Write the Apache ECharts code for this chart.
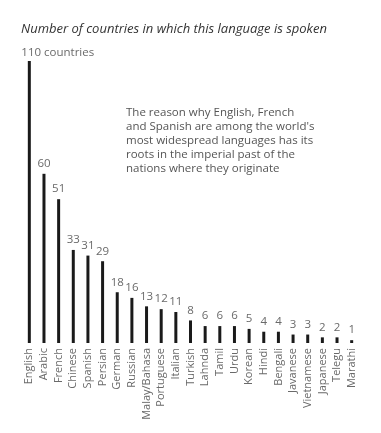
<!DOCTYPE html>
<html>
<head>
<meta charset="utf-8">
<script src="https://cdn.jsdelivr.net/npm/echarts@6/dist/echarts.min.js"></script>
<style>
html,body{margin:0;padding:0;background:#fff;}
#chart{width:381px;height:433px;}
</style>
</head>
<body>
<div id="chart"></div>
<script>
const languages = ["English","Arabic","French","Chinese","Spanish","Persian","German","Russian","Malay/Bahasa","Portuguese","Italian","Turkish","Lahnda","Tamil","Urdu","Korean","Hindi","Bengali","Javanese","Vietnamese","Japanese","Telegu","Marathi"];
const countries = [110,60,51,33,31,29,18,16,13,12,11,8,6,6,6,5,4,4,3,3,2,2,1];
const titleText = "Number of countries in which this language is spoken";
const noteText = "The reason why English, French\nand Spanish are among the world's\nmost widespread languages has its\nroots in the imperial past of the\nnations where they originate";

const FONT = "Open Sans";
const chart = echarts.init(document.getElementById('chart'), null, {renderer:'canvas'});
const data = countries.map((v,i)=> i===0 ? {
  value: v,
  label: {formatter: v + ' countries', align:'left', offset:[-8,0], distance:2}
} : v);

chart.setOption({
  animation:false,
  backgroundColor:'#ffffff',
  title:{
    text:titleText, left:16, top:18,
    textStyle:{fontFamily:FONT, fontStyle:'italic', fontWeight:'normal', fontSize:13, color:'#333'}
  },
  graphic:[{
    type:'text', left:126, top:106,
    style:{text:noteText, fontFamily:FONT, fontSize:11.5, lineHeight:14, fill:'#555'}
  }],
  grid:{left:22, right:22, top:61, bottom:90, containLabel:false},
  xAxis:{
    type:'category', data:languages,
    axisLine:{show:false}, axisTick:{show:false},
    axisLabel:{rotate:90, interval:0, margin:5, fontFamily:FONT, fontSize:11, color:'#6a6a6a'}
  },
  yAxis:{type:'value', min:0, max:100, show:false, splitLine:{show:false}},
  series:[{
    type:'bar', data:data, barWidth:3, clip:true,
    itemStyle:{color:'#1a1a1a'},
    label:{show:true, position:'top', distance:4, fontFamily:FONT, fontSize:11.5, color:'#6a6a6a'}
  }]
});
</script>
</body>
</html>
